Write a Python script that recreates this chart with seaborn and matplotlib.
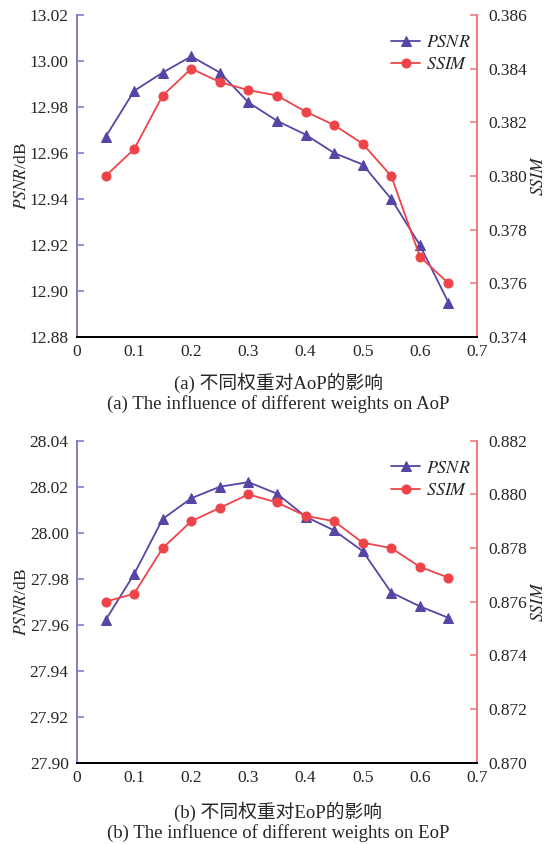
import numpy as np
import pandas as pd
import seaborn as sns
import matplotlib.pyplot as plt

# weights on the x axis
weights = [0.05, 0.1, 0.15, 0.2, 0.25, 0.3, 0.35, 0.4, 0.45, 0.5, 0.55, 0.6, 0.65]

# (a) AoP
aop_psnr = [12.967, 12.987, 12.995, 13.002, 12.995, 12.982, 12.974, 12.968, 12.960, 12.955, 12.940, 12.920, 12.895]
aop_ssim = [0.3800, 0.3810, 0.3830, 0.3840, 0.3835, 0.3832, 0.3830, 0.3824, 0.3819, 0.3812, 0.3800, 0.3770, 0.3760]

# (b) EoP
eop_psnr = [27.962, 27.982, 28.006, 28.015, 28.020, 28.022, 28.017, 28.007, 28.001, 27.992, 27.974, 27.968, 27.963]
eop_ssim = [0.8760, 0.8763, 0.8780, 0.8790, 0.8795, 0.8800, 0.8797, 0.8792, 0.8790, 0.8782, 0.8780, 0.8773, 0.8769]

x_ticks = [0, 0.1, 0.2, 0.3, 0.4, 0.5, 0.6, 0.7]
aop_left_ticks = [12.88, 12.90, 12.92, 12.94, 12.96, 12.98, 13.00, 13.02]
aop_right_ticks = [0.374, 0.376, 0.378, 0.380, 0.382, 0.384, 0.386]
eop_left_ticks = [27.90, 27.92, 27.94, 27.96, 27.98, 28.00, 28.02, 28.04]
eop_right_ticks = [0.870, 0.872, 0.874, 0.876, 0.878, 0.880, 0.882]

captions_cn = ['(a) 不同权重对AoP的影响', '(b) 不同权重对EoP的影响']
captions_en = ['(a) The influence of different weights on AoP',
               '(b) The influence of different weights on EoP']

sns.set_style('white')
plt.rcParams['font.family'] = ['Liberation Serif', 'Noto Sans CJK SC']
plt.rcParams['mathtext.fontset'] = 'stix'

PURPLE = '#5546a6'
RED = '#ee4449'
PURPLE_SPINE = '#8b7cc8'
RED_SPINE = '#f07b80'
FS = 12.5
CAP_FS = 13.5

fig = plt.figure(figsize=(5.51, 8.44), dpi=100)
rects = [[0.1397, 0.6007, 0.7260, 0.3815], [0.1397, 0.0963, 0.7260, 0.3815]]
cap_y = [0.5460, 0.0378]
panels = [(aop_psnr, aop_ssim, aop_left_ticks, aop_right_ticks),
          (eop_psnr, eop_ssim, eop_left_ticks, eop_right_ticks)]

for i, (psnr, ssim, lt, rt) in enumerate(panels):
    ax = fig.add_axes(rects[i])
    ax2 = ax.twinx()
    df = pd.DataFrame({'w': weights, 'psnr': psnr, 'ssim': ssim})
    sns.lineplot(data=df, x='w', y='psnr', ax=ax, color=PURPLE, marker='^',
                 markersize=7, markeredgecolor=PURPLE, linewidth=1.3, label='$PSNR$', legend=False)
    sns.lineplot(data=df, x='w', y='ssim', ax=ax2, color=RED, marker='o',
                 markersize=6.5, markeredgecolor=RED, linewidth=1.3, label='$SSIM$', legend=False)

    ax.set_xlim(0, 0.7)
    ax.set_ylim(lt[0], lt[-1])
    ax2.set_ylim(rt[0], rt[-1])
    ax.set_xticks(x_ticks)
    ax.set_xticklabels(['0'] + ['%.1f' % t for t in x_ticks[1:]], fontsize=FS)
    ax.set_yticks(lt)
    ax.set_yticklabels(['%.2f' % t for t in lt], fontsize=FS)
    ax2.set_yticks(rt)
    ax2.set_yticklabels(['%.3f' % t for t in rt], fontsize=FS)

    ax.set_xlabel('')
    ax.set_ylabel('$PSNR$/dB', fontsize=FS, labelpad=0)
    ax2.set_ylabel('$SSIM$', fontsize=FS, rotation=90, labelpad=3)

    for a in (ax, ax2):
        a.spines['top'].set_visible(False)
        a.spines['bottom'].set_color('black')
        a.spines['bottom'].set_linewidth(1.4)
        a.spines['left'].set_color(PURPLE_SPINE)
        a.spines['right'].set_color(RED_SPINE)
        a.spines['left'].set_linewidth(1.4)
        a.spines['right'].set_linewidth(1.4)
    ax.tick_params(axis='x', direction='in', length=5, width=1.2, color='#444444', pad=5)
    ax.tick_params(axis='y', direction='in', length=5, width=1.2, color=PURPLE_SPINE, pad=6)
    ax2.tick_params(axis='y', direction='in', length=5, width=1.2, color=RED_SPINE, pad=8)

    h1, l1 = ax.get_legend_handles_labels()
    h2, l2 = ax2.get_legend_handles_labels()
    ax2.legend(h1 + h2, l1 + l2, loc='upper right', bbox_to_anchor=(1.01, 0.975),
               frameon=False, fontsize=13, handlelength=1.6, handletextpad=0.3,
               labelspacing=0.3, borderaxespad=0.2)

    fig.text(0.505, cap_y[i], captions_cn[i], ha='center', va='center',
             fontsize=CAP_FS, fontweight='medium')
    fig.text(0.505, cap_y[i] - 0.025, captions_en[i], ha='center', va='center', fontsize=CAP_FS)

fig.savefig('out.png', dpi=100, facecolor='white')
